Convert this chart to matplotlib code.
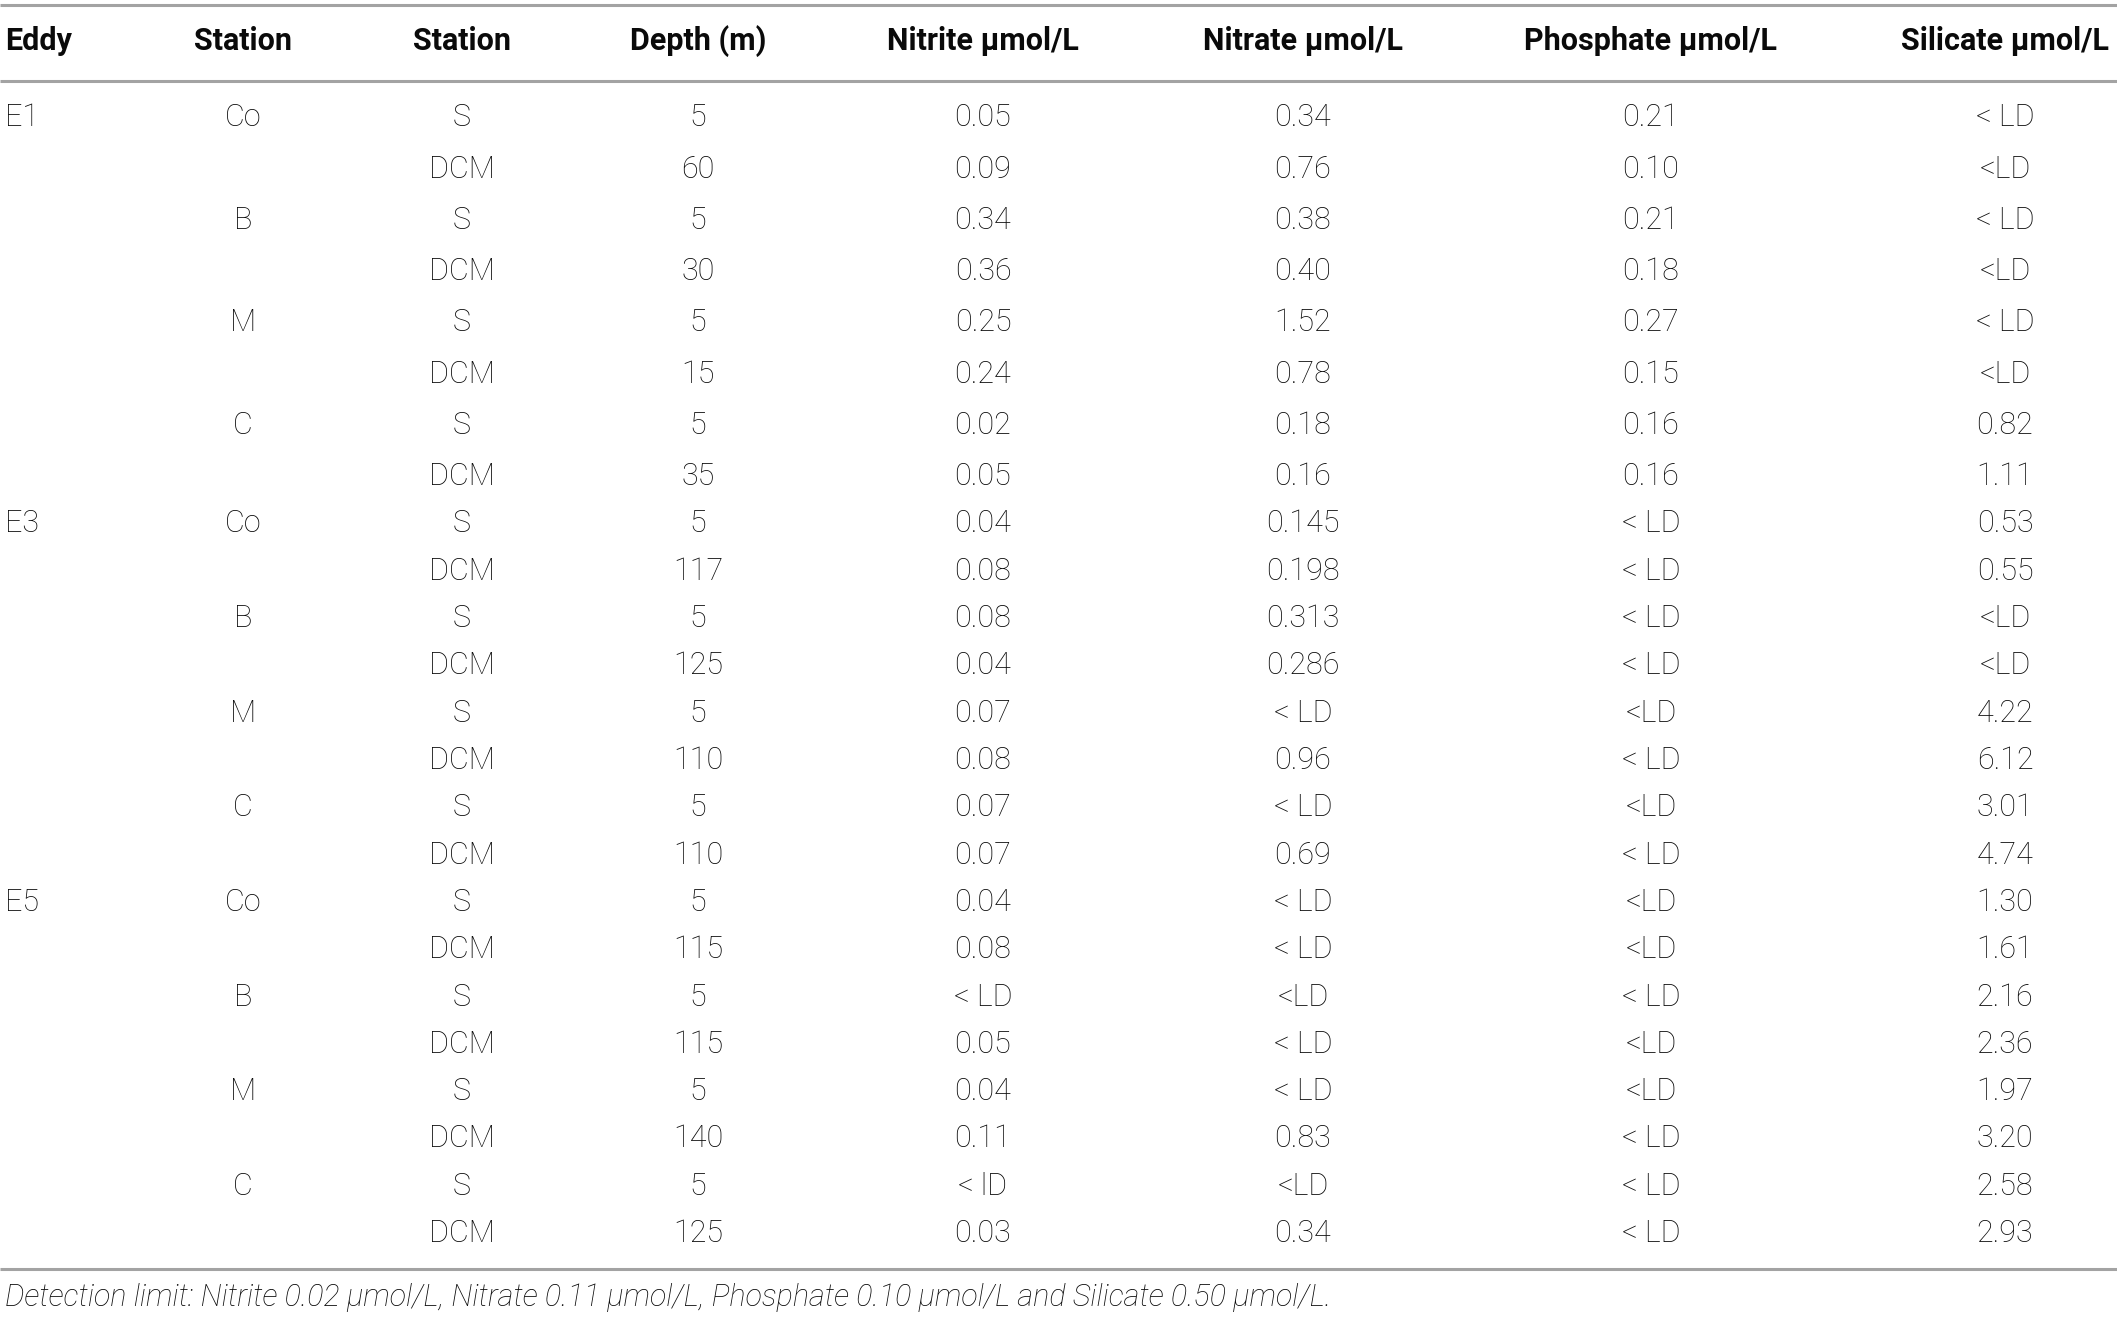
import matplotlib
matplotlib.use('Agg')
import matplotlib.pyplot as plt

# Данные таблицы
eddies = ['E1', 'E3', 'E5']
stations = ['Co', 'B', 'M', 'C']
layers = ['S', 'DCM']

headers = ['Eddy', 'Station', 'Station', 'Depth (m)', 'Nitrite \u00b5mol/L',
           'Nitrate \u00b5mol/L', 'Phosphate \u00b5mol/L', 'Silicate \u00b5mol/L']

depth = ['5', '60', '5', '30', '5', '15', '5', '35',
         '5', '117', '5', '125', '5', '110', '5', '110',
         '5', '115', '5', '115', '5', '140', '5', '125']
nitrite = ['0.05', '0.09', '0.34', '0.36', '0.25', '0.24', '0.02', '0.05',
           '0.04', '0.08', '0.08', '0.04', '0.07', '0.08', '0.07', '0.07',
           '0.04', '0.08', '< LD', '0.05', '0.04', '0.11', '< lD', '0.03']
nitrate = ['0.34', '0.76', '0.38', '0.40', '1.52', '0.78', '0.18', '0.16',
           '0.145', '0.198', '0.313', '0.286', '< LD', '0.96', '< LD', '0.69',
           '< LD', '< LD', '<LD', '< LD', '< LD', '0.83', '<LD', '0.34']
phosphate = ['0.21', '0.10', '0.21', '0.18', '0.27', '0.15', '0.16', '0.16',
             '< LD', '< LD', '< LD', '< LD', '<LD', '< LD', '<LD', '< LD',
             '<LD', '<LD', '< LD', '<LD', '<LD', '< LD', '< LD', '< LD']
silicate = ['< LD', '<LD', '< LD', '<LD', '< LD', '<LD', '0.82', '1.11',
            '0.53', '0.55', '<LD', '<LD', '4.22', '6.12', '3.01', '4.74',
            '1.30', '1.61', '2.16', '2.36', '1.97', '3.20', '2.58', '2.93']

footnote = ('Detection limit: Nitrite 0.02 \u00b5mol/L, Nitrate 0.11 \u00b5mol/L, '
            'Phosphate 0.10 \u00b5mol/L and Silicate 0.50 \u00b5mol/L.')

# Разметка (в пикселях картинки)
W, H = 2117, 1318
col_x = [5, 243, 462, 698, 983, 1303, 1651, 2005]
header_y = 41
line_top, line_head, line_bottom = 5, 81, 1269
footnote_y = 1298
text_color = '#0a0a0a'
line_color = '#a3a3a3'
fs_body = 22
fs_head = 22
fs_note = 22
fam = ['Roboto', 'DejaVu Sans']


def row_y(i):
    # первый блок (E1) чуть просторнее
    if i < 8:
        return 117.7 + i * 51.3
    return 524 + (i - 8) * 47.3


fig = plt.figure(figsize=(W / 100, H / 100), dpi=100)
ax = fig.add_axes([0, 0, 1, 1])
ax.set_xlim(0, W)
ax.set_ylim(H, 0)
ax.axis('off')

for y in (line_top, line_head, line_bottom):
    ax.plot([0, W], [y, y], color=line_color, lw=2.2, solid_capstyle='butt')

for j, h in enumerate(headers):
    ax.text(col_x[j], header_y, h, ha='left' if j == 0 else 'center', va='center',
            fontsize=fs_head, fontweight='bold', family=fam, color=text_color)

n_rows = len(depth)
for i in range(n_rows):
    y = row_y(i)
    cells = ['', '', layers[i % 2], depth[i], nitrite[i], nitrate[i],
             phosphate[i], silicate[i]]
    if i % 8 == 0:
        cells[0] = eddies[i // 8]
    if i % 2 == 0:
        cells[1] = stations[(i // 2) % 4]
    for j, c in enumerate(cells):
        if not c:
            continue
        ax.text(col_x[j], y, c, ha='left' if j == 0 else 'center', va='center',
                fontsize=fs_body, fontweight='light', family=fam, color=text_color)

ax.text(col_x[0], footnote_y, footnote, ha='left', va='center', fontsize=fs_note,
        fontweight='light', style='italic', family=fam, color=text_color)

fig.savefig('out.png', dpi=100)
